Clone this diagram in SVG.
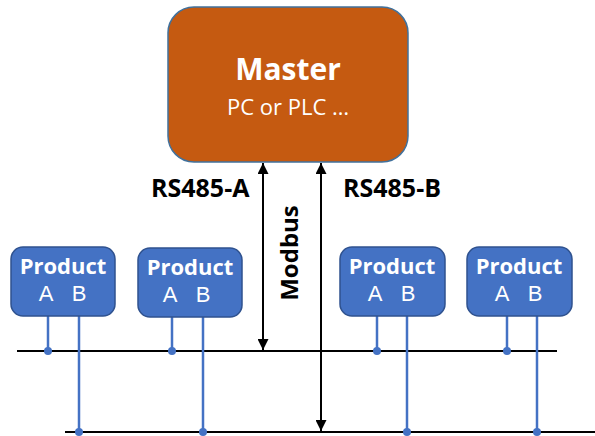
<svg xmlns="http://www.w3.org/2000/svg" width="595" height="436" viewBox="0 0 595 436">
<style>
.prod rect{fill:#4472C4;stroke:#2F528F;stroke-width:1.5}
.pt{font-family:"Open Sans",sans-serif;fill:#fff;text-anchor:middle}
.ab{font-family:"Liberation Sans",Arial,sans-serif;fill:#fff;text-anchor:middle;font-size:22px}
.b{font-weight:bold}
.lbl{font-family:"Open Sans",sans-serif;font-weight:bold;fill:#000}
.bus{stroke:#000;stroke-width:2}
.wire{stroke:#4472C4;stroke-width:2.5}
.dot{fill:#4472C4}
.arr{stroke:#000;stroke-width:2;marker-start:url(#ah);marker-end:url(#ah)}
</style>
<defs>
<marker id="ah" viewBox="0 0 10 10" refX="10" refY="5" markerWidth="6" markerHeight="5.5" orient="auto-start-reverse" markerUnits="strokeWidth">
<path d="M0,0 L10,5 L0,10 z" fill="#000"/>
</marker>
</defs>
<rect width="595" height="436" fill="#fff"/>
<g id="master">
<rect x="168" y="7" width="240" height="155" rx="26" fill="#C55A11" stroke="#41719C" stroke-width="1.5"/>
<text class="pt b" x="288" y="80" font-size="30">Master</text>
<text class="pt" x="288" y="115" font-size="22">PC or PLC …</text>
</g>
<g id="connectors">
<line class="bus" x1="17" y1="351" x2="557" y2="351"/>
<line class="bus" x1="65" y1="432" x2="595" y2="432"/>
<line class="arr" x1="263" y1="163" x2="263" y2="350"/>
<line class="arr" x1="321" y1="163" x2="321" y2="431"/>
<line class="wire" x1="48" y1="316" x2="48" y2="351"/>
<line class="wire" x1="79" y1="316" x2="79" y2="432"/>
<line class="wire" x1="172" y1="316" x2="172" y2="351"/>
<line class="wire" x1="203" y1="316" x2="203" y2="432"/>
<line class="wire" x1="377" y1="316" x2="377" y2="351"/>
<line class="wire" x1="407" y1="316" x2="407" y2="432"/>
<line class="wire" x1="507" y1="316" x2="507" y2="351"/>
<line class="wire" x1="537" y1="316" x2="537" y2="432"/>
<circle class="dot" cx="48" cy="351" r="4"/>
<circle class="dot" cx="79" cy="432" r="4"/>
<circle class="dot" cx="172" cy="351" r="4"/>
<circle class="dot" cx="203" cy="432" r="4"/>
<circle class="dot" cx="377" cy="351" r="4"/>
<circle class="dot" cx="407" cy="432" r="4"/>
<circle class="dot" cx="507" cy="351" r="4"/>
<circle class="dot" cx="537" cy="432" r="4"/>
</g>
<text class="lbl" x="151" y="197" font-size="25">RS485-A</text>
<text class="lbl" x="343" y="197" font-size="25">RS485-B</text>
<text class="lbl" font-size="24" text-anchor="middle" transform="translate(298,253) rotate(-90)">Modbus</text>
<g id="p1" class="prod">
<rect x="11" y="247" width="104" height="69" rx="12"/>
<text class="pt b" x="63" y="274" font-size="22">Product</text>
<text class="ab" x="46" y="301">A</text>
<text class="ab" x="79" y="301">B</text>
</g>
<g id="p2" class="prod">
<rect x="138" y="248" width="104" height="69" rx="12"/>
<text class="pt b" x="190" y="275" font-size="22">Product</text>
<text class="ab" x="170" y="302">A</text>
<text class="ab" x="203" y="302">B</text>
</g>
<g id="p3" class="prod">
<rect x="340" y="247" width="105" height="69" rx="12"/>
<text class="pt b" x="392" y="274" font-size="22">Product</text>
<text class="ab" x="375" y="301">A</text>
<text class="ab" x="408" y="301">B</text>
</g>
<g id="p4" class="prod">
<rect x="467" y="247" width="105" height="69" rx="12"/>
<text class="pt b" x="519" y="274" font-size="22">Product</text>
<text class="ab" x="502" y="301">A</text>
<text class="ab" x="535" y="301">B</text>
</g>
</svg>
